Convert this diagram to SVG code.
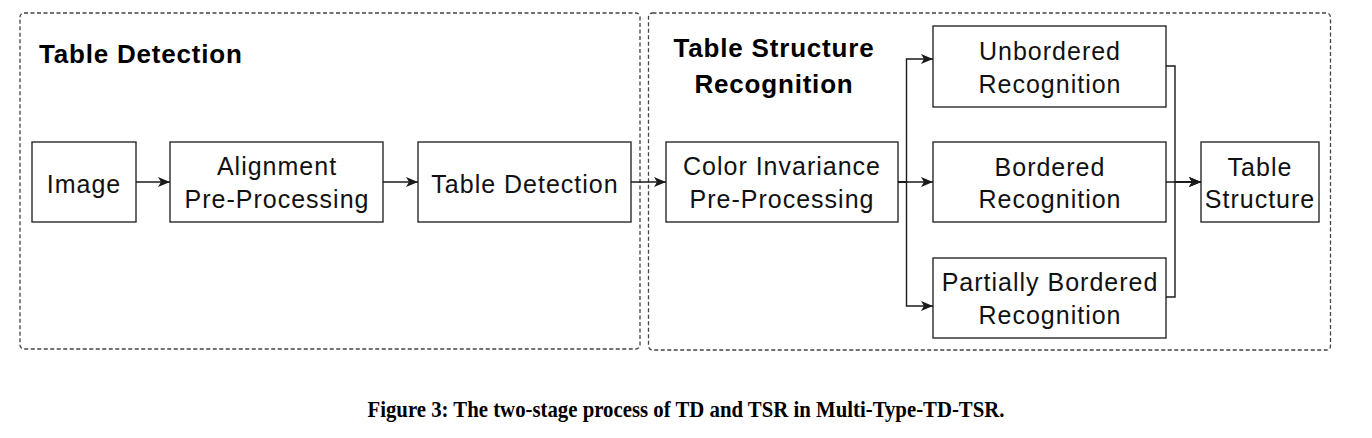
<svg xmlns="http://www.w3.org/2000/svg" width="1372" height="438" viewBox="0 0 1372 438">
<style>
.box{fill:#fff;stroke:#1a1a1a;stroke-width:1.3}
.cont{fill:none;stroke:#444;stroke-width:1.3;stroke-dasharray:4 2.5}
.t{font-family:"Liberation Sans",Arial,sans-serif;font-size:25px;fill:#111;text-anchor:middle;letter-spacing:1px}
.h{font-family:"Liberation Sans",Arial,sans-serif;font-size:26px;font-weight:bold;fill:#000;letter-spacing:0.8px}
.c{stroke:#1a1a1a;stroke-width:1.4;fill:none}
.cap{font-family:"Liberation Serif","Times New Roman",serif;font-size:24px;font-weight:bold;fill:#000;text-anchor:middle}
</style>
<defs>
<marker id="arr" viewBox="0 0 12 10" refX="12" refY="5" markerWidth="12" markerHeight="10" markerUnits="userSpaceOnUse" orient="auto">
<path d="M0,0 L12,5 L0,10 L3,5 Z" fill="#1a1a1a"/>
</marker>
</defs>
<g id="containers">
<rect id="td-stage" class="cont" x="20" y="13" width="620" height="336" rx="4"/>
<rect id="tsr-stage" class="cont" x="648.5" y="13" width="682" height="337" rx="4"/>
<text class="h" x="39" y="63">Table Detection</text>
<text class="h" x="774" y="57" text-anchor="middle">Table Structure</text>
<text class="h" x="774" y="93" text-anchor="middle">Recognition</text>
</g>
<g id="connectors">
<path class="c" d="M136,182 H170" marker-end="url(#arr)"/>
<path class="c" d="M383,182 H418" marker-end="url(#arr)"/>
<path class="c" d="M631,182 H666" marker-end="url(#arr)"/>
<path class="c" d="M898,182 H906.5 V59 H933" marker-end="url(#arr)"/>
<path class="c" d="M898,182 H933" marker-end="url(#arr)"/>
<path class="c" d="M898,182 H906.5 V306 H933" marker-end="url(#arr)"/>
<path class="c" d="M1166,66 H1175 V182 H1201" marker-end="url(#arr)"/>
<path class="c" d="M1166,182 H1201" marker-end="url(#arr)"/>
<path class="c" d="M1166,297 H1175 V182 H1201" marker-end="url(#arr)"/>
</g>
<g id="image">
<rect class="box" x="32" y="142" width="104" height="80"/>
<text class="t" x="84" y="193">Image</text>
</g>
<g id="alignment">
<rect class="box" x="170" y="142" width="213" height="80"/>
<text class="t" x="277" y="175">Alignment</text>
<text class="t" x="277" y="208">Pre-Processing</text>
</g>
<g id="table-detection">
<rect class="box" x="418" y="142" width="213" height="80"/>
<text class="t" x="525" y="193">Table Detection</text>
</g>
<g id="color-invariance">
<rect class="box" x="666" y="142" width="232" height="80"/>
<text class="t" x="782" y="175">Color Invariance</text>
<text class="t" x="782" y="208">Pre-Processing</text>
</g>
<g id="unbordered">
<rect class="box" x="933" y="26" width="233" height="81"/>
<text class="t" x="1050" y="60">Unbordered</text>
<text class="t" x="1050" y="93">Recognition</text>
</g>
<g id="bordered">
<rect class="box" x="933" y="142" width="233" height="80"/>
<text class="t" x="1050" y="176">Bordered</text>
<text class="t" x="1050" y="208">Recognition</text>
</g>
<g id="partially-bordered">
<rect class="box" x="933" y="258" width="233" height="80"/>
<text class="t" x="1050" y="291">Partially Bordered</text>
<text class="t" x="1050" y="324">Recognition</text>
</g>
<g id="table-structure">
<rect class="box" x="1201" y="142" width="118" height="80"/>
<text class="t" x="1260" y="176">Table</text>
<text class="t" x="1260" y="208">Structure</text>
</g>
<text class="cap" x="686" y="417" textLength="637" lengthAdjust="spacingAndGlyphs">Figure 3: The two-stage process of TD and TSR in Multi-Type-TD-TSR.</text>
</svg>
